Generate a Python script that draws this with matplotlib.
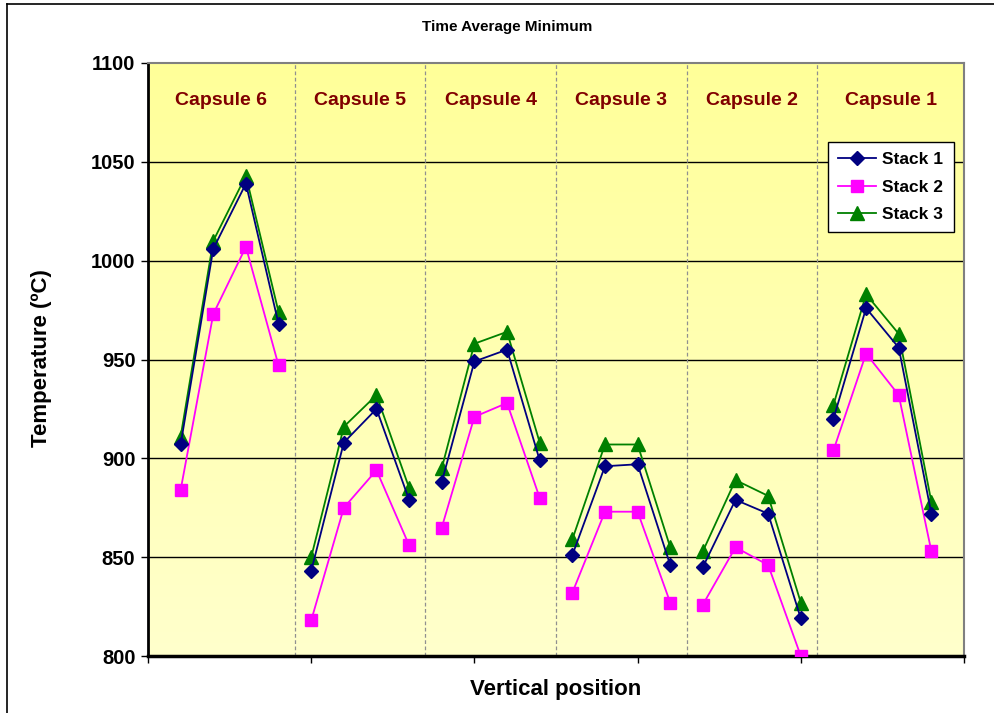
import numpy as np
import matplotlib
matplotlib.use("Agg")
import matplotlib.pyplot as plt
from matplotlib.lines import Line2D
from matplotlib.colors import LinearSegmentedColormap

plt.rcParams['font.family'] = ['Liberation Sans', 'DejaVu Sans']

positions = list(range(1, 25))
capsules = ["Capsule 6", "Capsule 5", "Capsule 4", "Capsule 3", "Capsule 2", "Capsule 1"]
capsule_centers = [2.25, 6.5, 10.5, 14.5, 18.5, 22.75]
separators = [4.5, 8.5, 12.5, 16.5, 20.5]
points_per_capsule = 4

stack1 = [907, 1006, 1039, 968,
          843, 908, 925, 879,
          888, 949, 955, 899,
          851, 896, 897, 846,
          845, 879, 872, 819,
          920, 976, 956, 872]
stack2 = [884, 973, 1007, 947,
          818, 875, 894, 856,
          865, 921, 928, 880,
          832, 873, 873, 827,
          826, 855, 846, 800,
          904, 953, 932, 853]
stack3 = [911, 1010, 1043, 974,
          850, 916, 932, 885,
          895, 958, 964, 908,
          859, 907, 907, 855,
          853, 889, 881, 827,
          927, 983, 963, 878]

yticks = [800, 850, 900, 950, 1000, 1050, 1100]

fig = plt.figure(figsize=(9.95, 7.13), dpi=100)
ax = fig.add_axes([148/995, 57/713, 816/995, 593/713])
ax.set_xlim(0, 25)
ax.set_ylim(800, 1100)

# gradient background
cmap = LinearSegmentedColormap.from_list("yel", ["#FFFFCC", "#FFFF99"])
grad = np.linspace(0, 1, 256).reshape(-1, 1)
ax.imshow(grad, extent=[0, 25, 800, 1100], origin='lower', aspect='auto',
          cmap=cmap, zorder=0)

for yv in [850, 900, 950, 1000, 1050]:
    ax.axhline(yv, color='black', lw=1.0, zorder=1)
for s in separators:
    ax.axvline(s, color='#909090', lw=0.9, ls=(0, (3, 2)), zorder=1)

series = [
    (stack1, 'Stack 1', '#000080', 'D', 7.5, 4),
    (stack2, 'Stack 2', '#FF00FF', 's', 9, 3),
    (stack3, 'Stack 3', '#008000', '^', 9.5, 3),
]
for vals, lab, col, mk, ms, z in series:
    for i in range(len(capsules)):
        sl = slice(i * points_per_capsule, (i + 1) * points_per_capsule)
        ax.plot(positions[sl], vals[sl], color=col, lw=1.3, marker=mk, ms=ms,
                markerfacecolor=col, markeredgecolor=col,
                label=lab if i == 0 else None, zorder=z)

for name, cx in zip(capsules, capsule_centers):
    ax.text(cx, 1081, name, ha='center', va='center', fontsize=14,
            fontweight='bold', color='#800000', zorder=5)

ax.set_yticks(yticks)
ax.set_yticklabels([str(v) for v in yticks], fontsize=14.5, fontweight='bold')
ax.set_xticks([0, 5, 10, 15, 20, 25])
ax.set_xticklabels([])
ax.tick_params(axis='both', direction='out', length=5, width=1, color='black', pad=4)

ax.spines['left'].set_color('black')
ax.spines['left'].set_linewidth(2)
ax.spines['bottom'].set_color('black')
ax.spines['bottom'].set_linewidth(2.5)
ax.spines['top'].set_color('#808080')
ax.spines['top'].set_linewidth(1.5)
ax.spines['right'].set_color('#808080')
ax.spines['right'].set_linewidth(1.5)

leg = ax.legend(loc='upper left', bbox_to_anchor=(0.833, 0.867), borderaxespad=0,
                prop={'weight': 'bold', 'size': 12.5}, frameon=True, fancybox=False,
                framealpha=1, edgecolor='black', handlelength=2.2,
                handletextpad=0.35, borderpad=0.6, labelspacing=0.7)
leg.get_frame().set_linewidth(1.0)
leg.set_zorder(10)

fig.text(507/995, 1 - 27/713, "Time Average Minimum", ha='center', va='center',
         fontsize=11, fontweight='bold')
fig.text(556/995, 1 - 690/713, "Vertical position", ha='center', va='center',
         fontsize=16, fontweight='bold')
fig.text(42/995, 1 - 358/713, "Temperature (ºC)", ha='center', va='center',
         rotation=90, fontsize=16, fontweight='bold')

# figure frame (top and left edges)
fig.add_artist(Line2D([7/995, 1], [1 - 4/713, 1 - 4/713], transform=fig.transFigure,
                      color='black', lw=1.2))
fig.add_artist(Line2D([7/995, 7/995], [0, 1 - 4/713], transform=fig.transFigure,
                      color='black', lw=1.2))

fig.savefig("out.png", dpi=100)
